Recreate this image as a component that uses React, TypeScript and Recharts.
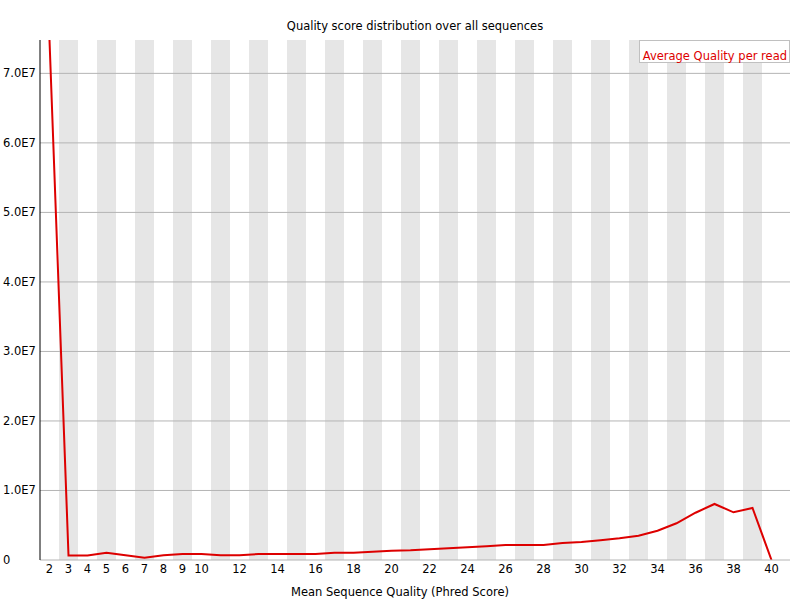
import React from "react";
import {
  ComposedChart,
  Line,
  XAxis,
  YAxis,
  ReferenceArea,
  ReferenceLine,
  Legend,
} from "recharts";

const categories = [
  2, 3, 4, 5, 6, 7, 8, 9, 10, 11, 12, 13, 14, 15, 16, 17, 18, 19, 20, 21,
  22, 23, 24, 25, 26, 27, 28, 29, 30, 31, 32, 33, 34, 35, 36, 37, 38, 39, 40,
];
const readCounts = [
  74800000, 650000, 650000, 1050000, 680000, 330000, 680000, 860000, 860000,
  680000, 680000, 860000, 860000, 860000, 860000, 1050000, 1050000, 1200000,
  1340000, 1400000, 1540000, 1680000, 1830000, 1970000, 2160000, 2160000,
  2160000, 2450000, 2590000, 2830000, 3120000, 3500000, 4200000, 5280000,
  6800000, 8060000, 6860000, 7480000, 0,
];
const xTicks = [2, 3, 4, 5, 6, 7, 8, 9, 10, 12, 14, 16, 18, 20, 22, 24, 26, 28, 30, 32, 34, 36, 38, 40];
const yTicks = [0, 10000000, 20000000, 30000000, 40000000, 50000000, 60000000, 70000000];
const yTickLabels = ["0", "1.0E7", "2.0E7", "3.0E7", "4.0E7", "5.0E7", "6.0E7", "7.0E7"];
const seriesName = "Average Quality per read";
const title = "Quality score distribution over all sequences";
const xTitle = "Mean Sequence Quality (Phred Score)";

const data = categories.map((q, i) => ({ q, count: readCounts[i] }));
const stripeCats = categories.filter((q) => q % 2 === 1);
const yMax = Math.max(...readCounts);

const FONT = "'DejaVu Sans', sans-serif";

const YTick = (props: any) => {
  const { y, payload } = props;
  const idx = yTicks.indexOf(payload.value);
  return (
    <text x={3} y={y} dy={4} textAnchor="start" fill="#000" fontSize={11.5} fontFamily={FONT}>
      {idx >= 0 ? yTickLabels[idx] : String(payload.value)}
    </text>
  );
};

const LegendBox = () => (
  <div
    style={{
      position: "absolute",
      left: 639,
      top: 40,
      width: 149,
      height: 21,
      border: "1px solid #c0c0c0",
      background: "#fff",
      color: "#dd0000",
      fontFamily: FONT,
      fontSize: 11.5,
      lineHeight: "21px",
      textAlign: "right",
      boxSizing: "content-box",
      whiteSpace: "nowrap",
    }}
  >
    <span style={{ position: "relative", top: 5, right: 2 }}>{seriesName}</span>
  </div>
);

export default function App() {
  return (
    <div style={{ position: "absolute", left: 0, top: 0, width: 800, height: 600, background: "#fff" }}>
      <div
        style={{
          position: "absolute",
          left: 40,
          width: 750,
          top: 19,
          textAlign: "center",
          fontFamily: FONT,
          fontSize: 11.5,
          color: "#000",
        }}
      >
        {title}
      </div>
      <ComposedChart
        width={800}
        height={600}
        data={data}
        margin={{ top: 40, right: 10, left: 0, bottom: 0 }}
      >
        {stripeCats.map((c) => (
          <ReferenceArea
            key={c}
            x1={c}
            x2={c}
            fill="#e6e6e6"
            fillOpacity={1}
            stroke="none"
            ifOverflow="hidden"
          />
        ))}
        {yTicks.slice(1).map((v) => (
          <ReferenceLine key={v} y={v} stroke="#b4b4b4" strokeWidth={1} ifOverflow="extendDomain" />
        ))}
        <XAxis
          dataKey="q"
          type="category"
          scale="band"
          ticks={xTicks}
          interval={0}
          padding={{ left: 0, right: 9 }}
          height={40}
          tickLine={false}
          tickSize={0}
          tickMargin={5}
          axisLine={{ stroke: "#b4b4b4" }}
          tick={{ fill: "#000", fontSize: 11.5, fontFamily: FONT }}
        />
        <YAxis
          type="number"
          domain={[0, yMax]}
          ticks={yTicks}
          width={40}
          tickLine={false}
          axisLine={{ stroke: "#000" }}
          tick={<YTick />}
          allowDataOverflow
        />
        <Legend content={() => <LegendBox />} wrapperStyle={{ position: "absolute", left: 0, top: 0, width: 0, height: 0 }} />
        <Line
          type="linear"
          dataKey="count"
          name={seriesName}
          stroke="#dd0000"
          strokeWidth={2}
          dot={false}
          activeDot={false}
          isAnimationActive={false}
        />
      </ComposedChart>
      <div
        style={{
          position: "absolute",
          left: 0,
          width: 800,
          top: 585,
          textAlign: "center",
          fontFamily: FONT,
          fontSize: 11.5,
          color: "#000",
        }}
      >
        {xTitle}
      </div>
    </div>
  );
}
